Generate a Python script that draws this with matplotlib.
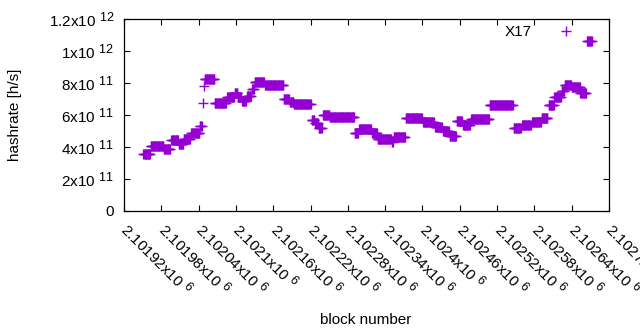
import numpy as np
import matplotlib
matplotlib.use("Agg")
import matplotlib.pyplot as plt
import matplotlib.transforms as mtransforms
import matplotlib._mathtext as _mt

_mt.SHRINK_FACTOR = 0.82  # gnuplot-like larger superscripts

plt.rcParams['font.family'] = ['Liberation Sans', 'DejaVu Sans']
plt.rcParams['mathtext.fontset'] = 'custom'
plt.rcParams['mathtext.rm'] = 'Liberation Sans'
plt.rcParams['mathtext.it'] = 'Liberation Sans'

# Step segments of the hashrate estimate: first block, last block, value [h/s]
seg_first = [2101951, 2101963, 2101984, 2101996, 2102008, 2102016, 2102028, 2102042,
             2102047, 2102049, 2102050, 2102066, 2102086, 2102098, 2102103, 2102110,
             2102118, 2102126, 2102130, 2102147, 2102177, 2102187, 2102193, 2102222,
             2102227, 2102233, 2102240, 2102251, 2102291, 2102298, 2102319, 2102328,
             2102351, 2102354, 2102373, 2102401, 2102420, 2102433, 2102444, 2102455,
             2102465, 2102478, 2102508, 2102547, 2102560, 2102576, 2102592, 2102603,
             2102612, 2102624, 2102629, 2102640, 2102654, 2102665]
seg_last = [2101962, 2101983, 2101994, 2102007, 2102015, 2102026, 2102041, 2102045,
            2102047, 2102049, 2102065, 2102084, 2102097, 2102102, 2102108, 2102116,
            2102124, 2102129, 2102145, 2102176, 2102185, 2102192, 2102220, 2102226,
            2102232, 2102238, 2102250, 2102290, 2102296, 2102317, 2102327, 2102349,
            2102352, 2102372, 2102399, 2102418, 2102431, 2102442, 2102454, 2102463,
            2102476, 2102507, 2102545, 2102558, 2102574, 2102590, 2102601, 2102611,
            2102622, 2102627, 2102639, 2102653, 2102663, 2102672]
seg_hashrate = [3.55e11, 4.04e11, 3.9e11, 4.45e11, 4.2e11, 4.5e11, 4.9e11, 5.3e11,
                6.75e11, 7.8e11, 8.28e11, 6.75e11, 7.1e11, 7.4e11, 7.1e11, 6.9e11,
                7.2e11, 7.6e11, 8.05e11, 7.85e11, 7.0e11, 6.8e11, 6.7e11, 5.7e11,
                5.5e11, 5.2e11, 6.0e11, 5.85e11, 4.9e11, 5.1e11, 4.9e11, 4.5e11,
                4.3e11, 4.65e11, 5.8e11, 5.55e11, 5.25e11, 5.0e11, 4.7e11, 5.6e11,
                5.4e11, 5.75e11, 6.6e11, 5.2e11, 5.35e11, 5.55e11, 5.8e11, 6.6e11,
                7.1e11, 7.5e11, 7.85e11, 7.75e11, 7.4e11, 1.06e12]

xtick_vals = [2101920, 2101980, 2102040, 2102100, 2102160, 2102220, 2102280,
              2102340, 2102400, 2102460, 2102520, 2102580, 2102640, 2102700]
xtick_labels = [r'2.10192x10 $^{6}$', r'2.10198x10 $^{6}$', r'2.10204x10 $^{6}$',
                r'2.1021x10 $^{6}$', r'2.10216x10 $^{6}$', r'2.10222x10 $^{6}$',
                r'2.10228x10 $^{6}$', r'2.10234x10 $^{6}$', r'2.1024x10 $^{6}$',
                r'2.10246x10 $^{6}$', r'2.10252x10 $^{6}$', r'2.10258x10 $^{6}$',
                r'2.10264x10 $^{6}$', r'2.1027x10 $^{6}$']
ytick_vals = [0, 2e11, 4e11, 6e11, 8e11, 1e12, 1.2e12]
ytick_labels = ['0', r'2x10 $^{11}$', r'4x10 $^{11}$', r'6x10 $^{11}$', r'8x10 $^{11}$',
                r'1x10 $^{12}$', r'1.2x10 $^{12}$']

blocks = np.concatenate([np.arange(a, b + 1) for a, b in zip(seg_first, seg_last)])
hashrate = np.concatenate([np.full(b - a + 1, v) for a, b, v in zip(seg_first, seg_last, seg_hashrate)])

fig = plt.figure(figsize=(6.4, 3.3), dpi=100)
ax = fig.add_axes([124/640, 1-211/330, (609-124)/640, (211-19)/330])

color = '#9400d3'
ax.plot(blocks, hashrate, linestyle='none', marker='+', markersize=7,
        markeredgewidth=1.0, color=color, label='X17')

FS = 11
ax.set_xlim(2101920, 2102700)
ax.set_ylim(0, 1.2e12)
ax.set_xticks(xtick_vals)
ax.set_xticklabels(xtick_labels, rotation=-45, ha='left', va='top',
                   rotation_mode='anchor', fontsize=FS)
ax.set_yticks(ytick_vals)
ax.set_yticklabels(ytick_labels, fontsize=FS)
ax.tick_params(direction='in', length=4.5, width=0.8, top=True, right=True, pad=7)
ax.tick_params(axis='x', pad=6)
for s in ax.spines.values():
    s.set_linewidth(0.9)

shift = mtransforms.ScaledTranslation(7/100, 0, fig.dpi_scale_trans)
for lab in ax.get_xticklabels():
    lab.set_transform(lab.get_transform() + shift)

fig.text(366/640, 1-320/330, 'block number', ha='center', va='center', fontsize=FS)
fig.text(15/640, 1-115/330, 'hashrate [h/s]', ha='center', va='center',
         rotation=90, fontsize=FS)

leg = ax.legend(loc='center right', bbox_to_anchor=((581-124)/485, (211-32)/192),
                frameon=False, markerfirst=False, borderaxespad=0, borderpad=0,
                handletextpad=1.2, handlelength=2, fontsize=FS)

fig.savefig('out.png', dpi=100)
